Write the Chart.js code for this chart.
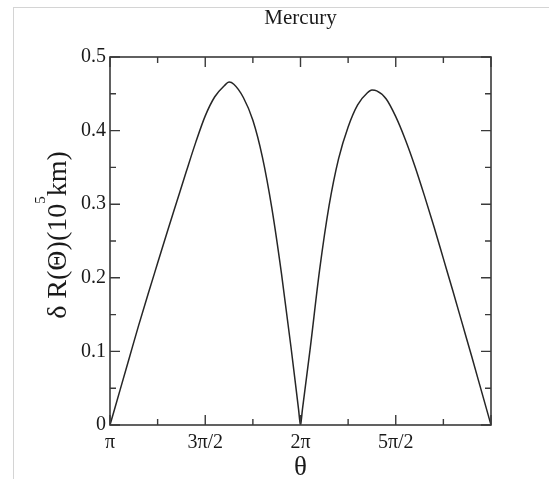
<!DOCTYPE html>
<html>
<head>
<meta charset="utf-8">
<script src="https://cdn.jsdelivr.net/npm/chart.js@4/dist/chart.umd.min.js"></script>
<style>
  html, body { margin: 0; padding: 0; background: #ffffff; }
  #wrap { position: relative; width: 549px; height: 479px; }
  #frame { position: absolute; left: 13px; top: 7px; right: 0; bottom: 0;
           border-left: 1px solid #d4d4d4; border-top: 1px solid #d4d4d4; }
  canvas { position: absolute; left: 0; top: 0; }
</style>
</head>
<body>
<div id="wrap">
  <div id="frame"></div>
  <canvas id="c" width="549" height="479"></canvas>
</div>
<script>
// Orbit-radius deviation of Mercury versus angle (angle given in units of pi)
const thetaOverPi = [1.00, 1.05, 1.10, 1.15, 1.20, 1.25, 1.30, 1.35, 1.40, 1.45, 1.50,
                     1.55, 1.60, 1.625, 1.65, 1.70, 1.75, 1.80, 1.85, 1.90, 1.95, 1.99,
                     2.00, 2.01, 2.05, 2.10, 2.15, 2.20, 2.25, 2.30, 2.35, 2.375, 2.40,
                     2.45, 2.50, 2.55, 2.60, 2.65, 2.70, 2.75, 2.80, 2.85, 2.90, 2.95, 3.00];
const deltaR      = [0.000, 0.045, 0.090, 0.135, 0.178, 0.220, 0.262, 0.303, 0.344, 0.384, 0.420,
                     0.446, 0.461, 0.466, 0.463, 0.445, 0.414, 0.364, 0.294, 0.206, 0.106, 0.021,
                     0.000, 0.021, 0.102, 0.210, 0.298, 0.362, 0.405, 0.435, 0.451, 0.455, 0.454,
                     0.443, 0.419, 0.388, 0.352, 0.312, 0.270, 0.226, 0.182, 0.137, 0.092, 0.046, 0.000];

// Axis tick positions and their labels
const xTickValues = [1, 1.25, 1.5, 1.75, 2, 2.25, 2.5, 2.75, 3];
const xTickText   = ['π', '', '3π/2', '', '2π', '', '5π/2', '', ''];
const yTickValues = [0, 0.05, 0.1, 0.15, 0.2, 0.25, 0.3, 0.35, 0.4, 0.45, 0.5];
const yTickText   = ['0', '', '0.1', '', '0.2', '', '0.3', '', '0.4', '', '0.5'];

const titleText = 'Mercury';
const xTitle = 'θ';
const yTitleMain = 'δ R(Θ)(10';
const yTitleSup = '5';
const yTitleEnd = 'km)';

const SERIF = '"Liberation Serif", "DejaVu Serif", serif';
const AXIS_COLOR = '#3a3a3a';

const points = thetaOverPi.map((t, i) => ({ x: t, y: deltaR[i] }));

// Boxed axes with inward ticks on all four sides, plus titles
const decorations = {
  id: 'decorations',
  afterDraw(chart) {
    const ctx = chart.ctx;
    const a = chart.chartArea;
    const xs = chart.scales.x, ys = chart.scales.y;
    ctx.save();
    ctx.strokeStyle = AXIS_COLOR;
    ctx.lineWidth = 1.6;
    ctx.strokeRect(a.left, a.top, a.right - a.left, a.bottom - a.top);

    ctx.lineWidth = 1.4;
    ctx.beginPath();
    xTickValues.forEach((v, i) => {
      const px = xs.getPixelForValue(v);
      const len = (i % 2 === 0) ? 10 : 6;
      ctx.moveTo(px, a.bottom); ctx.lineTo(px, a.bottom - len);
      ctx.moveTo(px, a.top);    ctx.lineTo(px, a.top + len);
    });
    yTickValues.forEach((v, i) => {
      const py = ys.getPixelForValue(v);
      const len = (i % 2 === 0) ? 10 : 6;
      ctx.moveTo(a.left, py);  ctx.lineTo(a.left + len, py);
      ctx.moveTo(a.right, py); ctx.lineTo(a.right - len, py);
    });
    ctx.stroke();

    const cx = (a.left + a.right) / 2;
    ctx.fillStyle = '#1a1a1a';
    ctx.textAlign = 'center';
    ctx.textBaseline = 'alphabetic';
    ctx.font = '21px ' + SERIF;
    ctx.fillText(titleText, cx, 24);

    ctx.font = '27px ' + SERIF;
    ctx.fillText(xTitle, cx, 475);

    // rotated y title with a superscript exponent
    ctx.translate(66, (a.top + a.bottom) / 2 - 6);
    ctx.rotate(-Math.PI / 2);
    ctx.textAlign = 'left';
    const mainFont = '28px ' + SERIF;
    const supFont = '15px ' + SERIF;
    ctx.font = mainFont;
    const w1 = ctx.measureText(yTitleMain).width;
    const w3 = ctx.measureText(yTitleEnd).width;
    ctx.font = supFont;
    const w2 = ctx.measureText(yTitleSup).width;
    let x0 = -(w1 + w2 + w3) / 2;
    ctx.font = mainFont;
    ctx.fillText(yTitleMain, x0, 0);
    ctx.font = supFont;
    ctx.fillText(yTitleSup, x0 + w1, -21);
    ctx.font = mainFont;
    ctx.fillText(yTitleEnd, x0 + w1 + w2, 0);
    ctx.restore();
  }
};

new Chart(document.getElementById('c'), {
  type: 'scatter',
  data: {
    datasets: [{
      data: points,
      showLine: true,
      borderColor: '#262626',
      borderWidth: 1.5,
      pointRadius: 0,
      cubicInterpolationMode: 'monotone',
      fill: false
    }]
  },
  options: {
    responsive: false,
    animation: false,
    devicePixelRatio: 1,
    layout: { padding: { top: 57, right: 58, left: 0, bottom: 0 } },
    plugins: { legend: { display: false }, tooltip: { enabled: false }, title: { display: false } },
    scales: {
      x: {
        type: 'linear',
        min: 1, max: 3,
        afterBuildTicks(scale) { scale.ticks = xTickValues.map(v => ({ value: v })); },
        afterFit(scale) { scale.height = 54; },
        grid: { display: false, drawTicks: false },
        border: { display: false },
        ticks: {
          autoSkip: false, maxRotation: 0, padding: 6,
          color: '#1a1a1a',
          font: { family: SERIF, size: 20 },
          callback(v) { const i = xTickValues.indexOf(v); return i >= 0 ? xTickText[i] : ''; }
        }
      },
      y: {
        type: 'linear',
        min: 0, max: 0.5,
        afterBuildTicks(scale) { scale.ticks = yTickValues.map(v => ({ value: v })); },
        afterFit(scale) { scale.width = 110; },
        grid: { display: false, drawTicks: false },
        border: { display: false },
        ticks: {
          autoSkip: false, padding: 4,
          color: '#1a1a1a',
          font: { family: SERIF, size: 20 },
          callback(v) { const i = yTickValues.indexOf(v); return i >= 0 ? yTickText[i] : ''; }
        }
      }
    }
  },
  plugins: [decorations]
});
</script>
</body>
</html>
